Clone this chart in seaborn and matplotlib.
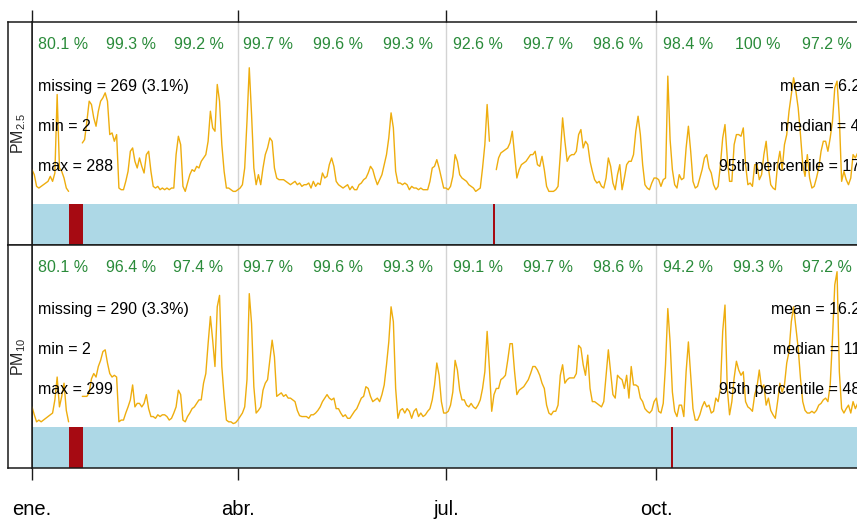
import numpy as np
import pandas as pd
import matplotlib
matplotlib.use("Agg")
import matplotlib.pyplot as plt
import seaborn as sns

nan = np.nan
YEAR = 2018

# Daily means (ug/m3), one value per day of the year
pm25_daily = [
    # ene.
    9.0, 7.5, 4.0, 3.5, 4.0, 4.5, 5.0, 5.5, 7.0, 5.5, 8.0, 31.5, 9.5, 8.5, 6.5, 3.5, 2.5,
    nan, nan, nan, nan, nan, 17, 18, 23.5, 29.5, 28.5, 24.5, 22, 26.5, 29.5,
    # feb.
    30.5, 32, 29.5, 19.5, 20, 17.5, 19.5, 3.5, 3, 3, 5.5, 8.5, 14.5, 15.5, 11.5, 9.5,
    12.5, 10, 8, 13.5, 14.5, 8.5, 4, 3.5, 4, 3, 3.5, 3,
    # mar.
    3.5, 3, 3.5, 3.5, 13.5, 19, 16.5, 4, 2.5, 5, 7.5, 9, 8.5, 10, 9.5, 11.5, 12.5, 13.5,
    17.5, 26.5, 21.5, 20.5, 34.5, 29.5, 16.5, 8.5, 3.5, 3.5, 3, 2.5, 2.5,
    # abr.
    3, 3.5, 4.5, 9.5, 23.5, 39.5, 25.5, 9.5, 4.5, 7.5, 4.5, 9.5, 13.5, 15.5, 18.5, 17.5,
    9.5, 6.5, 6, 6, 6, 5.5, 5, 4.5, 5, 5.5, 4.5, 5, 4, 4.5,
    # may.
    4.5, 5, 3.5, 5.5, 4, 5, 4.5, 8, 6.5, 7, 10.5, 12.5, 10, 5.5, 4.5, 4, 3.5, 4, 4.5, 3,
    4, 3, 3, 4.5, 5, 6, 6.5, 8, 10, 9, 6.5,
    # jun.
    4.5, 6, 7.5, 10.5, 13.5, 18.5, 26, 21.5, 8.5, 5, 5, 4.5, 5, 4.5, 3, 4, 3.5, 3.5, 3,
    3.5, 3, 3, 3, 5.5, 9.5, 10, 12, 9.5, 6.5, 3.5,
    # jul.
    3.5, 3, 4, 7, 13.5, 11.5, 7.5, 6.5, 6, 5.5, 4.5, 4, 3.5, 2.5, 3, 3.5, 9.5, 16.5, 28.5,
    17.5, nan, nan, 9, 12.5, 14, 14.5, 15, 15.5, 17, 20.5, 13.5,
    # ago.
    6.5, 9, 10.5, 11, 11.5, 12.5, 13.5, 13.5, 14.5, 10.5, 10, 13, 9, 4, 2.5, 2.5, 2.5, 3,
    4, 13.5, 24.5, 17.5, 11.5, 13, 13.5, 13.5, 14.5, 19.5, 21, 15.5, 17.5,
    # sep.
    16.5, 11.5, 8.5, 6, 5, 5.5, 4, 3.5, 6.5, 12.5, 10, 5, 3, 7.5, 10.5, 3, 6.5, 10.5,
    11.5, 11.5, 13.5, 20.5, 25, 19.5, 10.5, 4.5, 3.5, 3, 5, 6.5,
    # oct.
    6.5, 6, 4, 6, 6.5, 37, 18, 9, 4.5, 3.5, 7.5, 6, 6.5, 15.5, 22, 14.5, 5.5, 3.5, 4,
    6.5, 9, 12.5, 13.5, 9.5, 8, 4.5, 3, 4, 10.5, 18.5, 22.5,
    # nov.
    12.5, 5.5, 5.5, 16.5, 19.5, 19.5, 19, 21.5, 10.5, 4.5, 5, 4, 10.5, 10.5, 6, 7.5,
    13.5, 17.5, 9.5, 4.5, 3.5, 3, 10.5, 14.5, 9, 16.5, 19.5, 26.5, 31.5, 36.5,
    # dic.
    32.5, 27.5, 19.5, 10.5, 7, 13.5, 6.5, 3.5, 4, 6.5, 9.5, 14.5, 17.5, 17.5, 14.5, 18.5,
    23.5, 33.5, 35.5, 24.5, 5.5, 8.5, 6, 4.5, 6.5, 13.5, 12.5, 14, 10, 8, 9,
]

pm10_daily = [
    # ene.
    12, 7.5, 3.5, 4.5, 3.5, 4.5, 5.5, 6.5, 7.5, 8.5, 16, 29, 12, 18, 25.5, 10, 3.5,
    nan, nan, nan, nan, nan, 18, 18, 18, 20, 28, 31, 29, 35, 38.5,
    # feb.
    43.5, 44.5, 37, 31, 29, 30, 29, 3.5, 4.5, 4.5, 8.5, 12, 16, 24.5, 12, 14, 14, 12, 14,
    19, 11, 6.5, 6.5, 5.5, 7.5, 6.5, 7.5, 7.5,
    # mar.
    6.5, 4.5, 5.5, 8.5, 12, 21.5, 19, 4.5, 3.5, 6.5, 8.5, 11, 12, 14, 16, 16, 25.5, 31,
    48, 63.5, 50, 35, 69, 75.5, 35, 18, 4.5, 3.5, 3.5, 2.5, 3,
    # abr.
    4.5, 6.5, 8.5, 12, 27.5, 76.5, 59.5, 23.5, 8.5, 10, 12, 21.5, 25.5, 27.5, 38.5, 50,
    40.5, 18, 19, 20, 18, 19, 17, 17, 16, 15, 10, 7, 6.5, 6.5,
    # may.
    6.5, 5.5, 7.5, 7.5, 8.5, 10, 12, 15, 17, 19, 17, 16, 17, 11, 11, 8.5, 6.5, 7.5, 5.5,
    5.5, 7.5, 9.5, 11, 14, 17, 18, 23.5, 22.5, 18, 15, 16,
    # jun.
    17, 15, 19, 24.5, 36, 49, 69, 60.5, 22.5, 5.5, 10, 11, 8.5, 11, 9.5, 5.5, 9.5, 11,
    6.5, 8.5, 6.5, 7.5, 9.5, 11, 16, 24.5, 37, 30, 15, 8.5,
    # jul.
    8.5, 9.5, 13, 20.5, 38.5, 33, 21.5, 16, 16, 13, 12, 14, 12, 11, 13, 16, 22.5, 32, 55,
    34, 9.5, 19, 22.5, 22.5, 27.5, 28.5, 30, 38.5, 48, 48, 32,
    # ago.
    19, 21.5, 22.5, 23.5, 25.5, 27.5, 31, 35, 35, 33, 30, 25.5, 22.5, 13, 8.5, 7.5, 9.5,
    9.5, 13, 30, 36, 25.5, 27.5, 28.5, 28.5, 28.5, 31, 47, 45.5, 36, 30,
    # sep.
    41.5, 22.5, 15, 15, 14, 13, 12, 15, 30, 44.5, 32, 19, 17, 30, 28.5, 27.5, 22.5, 30,
    17, 35, 24.5, 24.5, 23.5, 17, 15, 11, 9.5, 8.5, 10, 15,
    # oct.
    17, 9.5, 8.5, 14, 36, 68, 49, 20.5, 9.5, 6.5, 13, 13, 6.5, 32, 49, 30, 11, 4.5, 4.5,
    7.5, 12, 15, 12, 13, 8.5, 9.5, 17, 15, 22.5, 55, 70,
    # nov.
    22.5, 7.5, 15, 28.5, 38, 33, 30, 32, 15, 12, 11, 9.5, 19, 23.5, 33, 22.5, 24.5, 13,
    17, 10, 7.5, 5.5, 15, 25.5, 20.5, 24.5, 37, 43.5, 60.5, 69,
    # dic.
    57, 45.5, 28.5, 15, 10, 8.5, 8.5, 9.5, 8.5, 10, 13, 14, 16, 17, 15, 24.5, 51, 81.5,
    89, 32, 11, 8.5, 11, 13, 8.5, 15, 11, 14, 12, 10, 11,
]

# Monthly data capture (%)
pm25_capture = [80.1, 99.3, 99.2, 99.7, 99.6, 99.3, 92.6, 99.7, 98.6, 98.4, 100, 97.2]
pm10_capture = [80.1, 96.4, 97.4, 99.7, 99.6, 99.3, 99.1, 99.7, 98.6, 94.2, 99.3, 97.2]

# Periods without hourly data
pm25_missing = [("2018-01-17 05:00", "2018-01-23 07:00"),
                ("2018-07-21 10:00", "2018-07-22 14:00")]
pm10_missing = [("2018-01-17 05:00", "2018-01-23 07:00"),
                ("2018-10-07 07:00", "2018-10-08 02:00")]

# Summary statistics of the hourly series
pm25_stats_left = ["missing = 269 (3.1%)", "min = 2", "max = 288"]
pm25_stats_right = ["mean = 6.2", "median = 4", "95th percentile = 17"]
pm10_stats_left = ["missing = 290 (3.3%)", "min = 2", "max = 299"]
pm10_stats_right = ["mean = 16.2", "median = 11", "95th percentile = 48"]

pollutant_labels = ["PM$_{2.5}$", "PM$_{10}$"]
tick_months = [1, 4, 7, 10]
tick_labels = ["ene.", "abr.", "jul.", "oct."]

# ---- styling ----
sns.set_style("white")
plt.rcParams["font.family"] = ["Liberation Sans", "DejaVu Sans"]
plt.rcParams["mathtext.fontset"] = "custom"
plt.rcParams["mathtext.rm"] = "Liberation Sans"
plt.rcParams["mathtext.it"] = "Liberation Sans:italic"

TREND = "#EEAD0E"
DATA_BAR = "#ADD8E6"
MISSING = "#A60A12"
PCT = "#2a8b3a"
GRID = "#D3D3D3"
FRAME = "#1a1a1a"

W, H = 857, 520
fig = plt.figure(figsize=(W / 100, H / 100), dpi=100)


def rect(x0, y0, x1, y1):
    return [x0 / W, 1 - y1 / H, (x1 - x0) / W, (y1 - y0) / H]


dates = pd.date_range(f"{YEAR}-01-01", periods=365, freq="D")
start, end = dates[0], dates[-1]

panels = [
    dict(values=pm25_daily, capture=pm25_capture, missing=pm25_missing,
         left=pm25_stats_left, right=pm25_stats_right, ylim=(-13.55, 53.2),
         box=(32, 22, 864.5, 245), strip=(8, 22, 32, 245)),
    dict(values=pm10_daily, capture=pm10_capture, missing=pm10_missing,
         left=pm10_stats_left, right=pm10_stats_right, ylim=(-22.8, 104.2),
         box=(32, 245, 864.5, 468), strip=(8, 245, 32, 468)),
]

BAR_TOP = 0.183
PCT_Y = 0.897
STAT_Y = [0.712, 0.533, 0.353]
LEFT_X = 6 / 832.5
RIGHT_X = 828 / 832.5
PCT_SHIFT = pd.Timedelta(hours=41)

for i, p in enumerate(panels):
    ax = fig.add_axes(rect(*p["box"]))
    df = pd.DataFrame({"date": dates, "value": p["values"]})
    df["segment"] = df["value"].isna().cumsum()
    df = df.dropna()

    for m in tick_months[1:]:
        ax.axvline(pd.Timestamp(YEAR, m, 1), color=GRID, lw=1.0, zorder=0)
    ax.axvspan(start, end, ymin=0, ymax=BAR_TOP, color=DATA_BAR, lw=0, zorder=1)
    for s, e in p["missing"]:
        ax.axvspan(pd.Timestamp(s), pd.Timestamp(e), ymin=0, ymax=BAR_TOP,
                   color=MISSING, lw=0, zorder=2)

    sns.lineplot(data=df, x="date", y="value", units="segment", estimator=None,
                 color=TREND, lw=1.0, ax=ax, zorder=3)

    ax.set_xlim(start, end)
    ax.set_ylim(*p["ylim"])
    ax.set_xlabel("")
    ax.set_ylabel("")
    ax.set_yticks([])

    xt = ax.get_xaxis_transform()
    for m, pct in enumerate(p["capture"]):
        m0 = pd.Timestamp(YEAR, m + 1, 1)
        mid = m0 + pd.Timedelta(days=m0.days_in_month / 2) - PCT_SHIFT
        ax.text(mid, PCT_Y, f"{pct:g} %", transform=xt, ha="center", va="center",
                color=PCT, fontsize=11.5, zorder=4)
    for y, s in zip(STAT_Y, p["left"]):
        ax.text(LEFT_X, y, s, transform=ax.transAxes, ha="left", va="center",
                color="black", fontsize=11.5, zorder=4)
    for y, s in zip(STAT_Y, p["right"]):
        ax.text(RIGHT_X, y, s, transform=ax.transAxes, ha="right", va="center",
                color="black", fontsize=11.5, zorder=4)

    ax.set_xticks([pd.Timestamp(YEAR, m, 1) for m in tick_months])
    if i == 0:
        ax.tick_params(axis="x", bottom=False, top=True, labelbottom=False,
                       labeltop=False, direction="out", length=8.6, width=1.0,
                       color=FRAME)
    else:
        ax.set_xticklabels(tick_labels)
        ax.tick_params(axis="x", bottom=True, top=False, labelbottom=True,
                       direction="out", length=8.6, width=1.0, color=FRAME,
                       labelsize=14.5, pad=14.5, labelcolor="black")
    for sp in ax.spines.values():
        sp.set_color(FRAME)
        sp.set_linewidth(1.1)

    sax = fig.add_axes(rect(*p["strip"]))
    sax.set_xticks([])
    sax.set_yticks([])
    for sp in sax.spines.values():
        sp.set_color(FRAME)
        sp.set_linewidth(1.1)
    sax.text(0.45, 0.5, pollutant_labels[i], rotation=90, ha="center", va="center",
             fontsize=11.5, transform=sax.transAxes)

fig.savefig("out.png", dpi=100)
